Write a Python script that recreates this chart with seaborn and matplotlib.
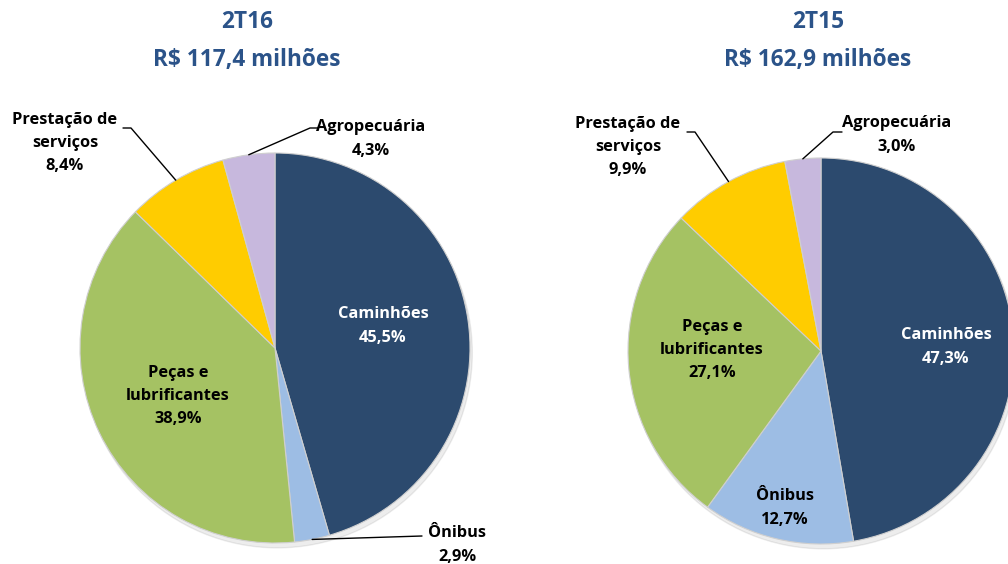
import numpy as np
import matplotlib
matplotlib.use("Agg")
import matplotlib.pyplot as plt
import seaborn as sns
from matplotlib.lines import Line2D

# ---- data ----
categories = ["Caminhões", "Ônibus", "Peças e\nlubrificantes", "Prestação de\nserviços", "Agropecuária"]
values_2t16 = [45.5, 2.9, 38.9, 8.4, 4.3]
values_2t15 = [47.3, 12.7, 27.1, 9.9, 3.0]
titles = ["2T16\nR$ 117,4 milhões", "2T15\nR$ 162,9 milhões"]
pct_2t16 = ["45,5%", "2,9%", "38,9%", "8,4%", "4,3%"]
pct_2t15 = ["47,3%", "12,7%", "27,1%", "9,9%", "3,0%"]

colors = ["#2C4A6E", "#9DBDE4", "#A5C263", "#FFCC00", "#C7B8DD"]
text_colors = ["white", "black", "black", "black", "black"]

sns.set_theme(style="white")
plt.rcParams["font.family"] = ["Open Sans", "DejaVu Sans"]

W, H = 1008, 564
fig = plt.figure(figsize=(W / 100, H / 100), dpi=100)
fig.patch.set_facecolor("white")

def fx(px):
    return px / W

def fy(py):
    return 1 - py / H

pies = [
    dict(cx=275, cy=348, r=195, vals=values_2t16, pct=pct_2t16, title=titles[0], tx=247,
         labels={0: (383, 326, False), 1: (457, 545, True), 2: (178, 396, False),
                 3: (65, 143, True), 4: (371, 139, True)},
         leaders={1: [(422, 536)], 3: [(131, 128), (123, 128)], 4: [(310, 128), (318, 128)]}),
    dict(cx=821, cy=351, r=193, vals=values_2t15, pct=pct_2t15, title=titles[1], tx=818,
         labels={0: (946, 347, False), 1: (785, 508, False), 2: (712, 350, False),
                 3: (628, 147, True), 4: (897, 135, True)},
         leaders={3: [(695, 132), (687, 132)], 4: [(833, 132), (842, 132)]}),
]

for p in pies:
    cx, cy, r = p["cx"], p["cy"], p["r"]
    ax = fig.add_axes([fx(cx - r), fy(cy + r), 2 * r / W, 2 * r / H])
    shadow = plt.Circle((0.012, -0.025), 1.0, color="#000000", alpha=0.07, zorder=0,
                        clip_on=False)
    ax.add_patch(shadow)
    wedges, _ = ax.pie(p["vals"], colors=colors, startangle=90, counterclock=False,
                       radius=1.0, wedgeprops=dict(edgecolor="#cfcfcf", linewidth=0.8))
    for w in wedges:
        w.set_zorder(2)
    ax.set_xlim(-1, 1)
    ax.set_ylim(-1, 1)
    ax.set_aspect("auto")
    ax.axis("off")

    fig.text(fx(p["tx"]), fy(41), p["title"], ha="center", va="center",
             fontsize=16.3, fontweight="bold", color="#2B5389", linespacing=1.75)

    for i, w in enumerate(wedges):
        lx, ly, outside = p["labels"][i]
        txt = categories[i] + "\n" + p["pct"][i]
        fig.text(fx(lx), fy(ly), txt, ha="center", va="center", fontsize=11.8,
                 fontweight="bold", color=text_colors[i] if not outside else "black",
                 linespacing=1.6)
        if i in p["leaders"]:
            mid = np.deg2rad((w.theta1 + w.theta2) / 2)
            ex = cx + r * np.cos(mid)
            ey = cy - r * np.sin(mid)
            pts = [(ex, ey)] + p["leaders"][i]
            fig.add_artist(Line2D([fx(a) for a, b in pts], [fy(b) for a, b in pts],
                                  color="black", linewidth=1.0))

fig.savefig("out.png", dpi=100, facecolor="white")
